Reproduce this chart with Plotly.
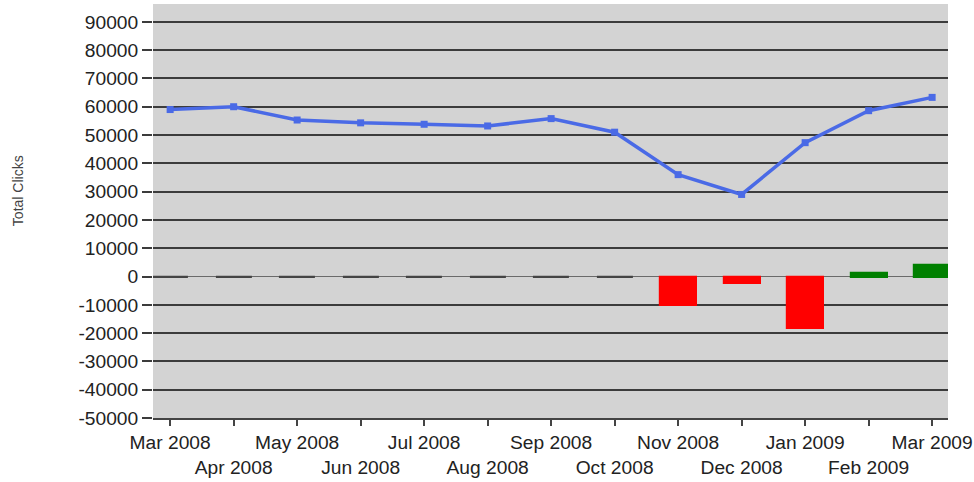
import plotly.graph_objects as go

months = ["Mar 2008", "Apr 2008", "May 2008", "Jun 2008", "Jul 2008", "Aug 2008",
          "Sep 2008", "Oct 2008", "Nov 2008", "Dec 2008", "Jan 2009", "Feb 2009", "Mar 2009"]
total_clicks = [59000, 60000, 55300, 54300, 53800, 53200, 55800, 51000,
                36000, 29000, 47300, 58600, 63300]
change = [0, 0, 0, 0, 0, 0, 0, 0, -10200, -2200, -18300, 1100, 4200]
y_ticks = list(range(-50000, 90001, 10000))

bar_colors = ["#ff0000" if v < 0 else ("#008000" if v > 0 else "#444444") for v in change]

fig = go.Figure()
fig.add_trace(go.Bar(
    x=months, y=change, width=0.57,
    marker=dict(color=bar_colors, line=dict(color=bar_colors, width=2.2)),
    showlegend=False, hoverinfo="x+y",
))
fig.add_trace(go.Scatter(
    x=months, y=total_clicks, mode="lines+markers",
    line=dict(color="#4a6ae6", width=3.5),
    marker=dict(symbol="square", size=7, color="#4a6ae6"),
    showlegend=False,
))

ticktext = [m if i % 2 == 0 else "<br>" + m for i, m in enumerate(months)]

fig.update_layout(
    width=974, height=482,
    margin=dict(l=153, r=26, t=4, b=64),
    paper_bgcolor="white", plot_bgcolor="#d3d3d3",
    font=dict(family="Liberation Sans, Arial, sans-serif", size=18, color="#222222"),
    bargap=0,
    xaxis=dict(
        type="category", range=[-0.27, 12.25], automargin=False,
        tickmode="array", tickvals=months, ticktext=ticktext,
        showgrid=False, showline=True, linecolor="#444444", linewidth=1.5,
        ticks="outside", ticklen=6, tickwidth=1.5, tickcolor="#444444",
        tickangle=0, tickfont=dict(size=19.2),
    ),
    yaxis=dict(
        range=[-50000, 96300], tickmode="array", tickvals=y_ticks, automargin=False,
        ticktext=[str(v) for v in y_ticks],
        showgrid=True, gridcolor="#3c3c3c", gridwidth=1.8,
        zeroline=True, zerolinecolor="#6a6a6a", zerolinewidth=1,
        ticks="outside", ticklen=10, tickwidth=1.8, tickcolor="#3c3c3c",
        showline=False, tickfont=dict(size=19.2),
    ),
    annotations=[dict(
        text="Total Clicks", textangle=-90, xref="paper", yref="paper",
        x=0, y=0.548, xanchor="center", yanchor="middle", xshift=-135,
        showarrow=False, font=dict(size=14, color="#444444"),
    )],
)

fig.write_html("out.html", config={"displayModeBar": False},
               post_script="document.body.style.margin='0';document.body.style.overflow='hidden';")
